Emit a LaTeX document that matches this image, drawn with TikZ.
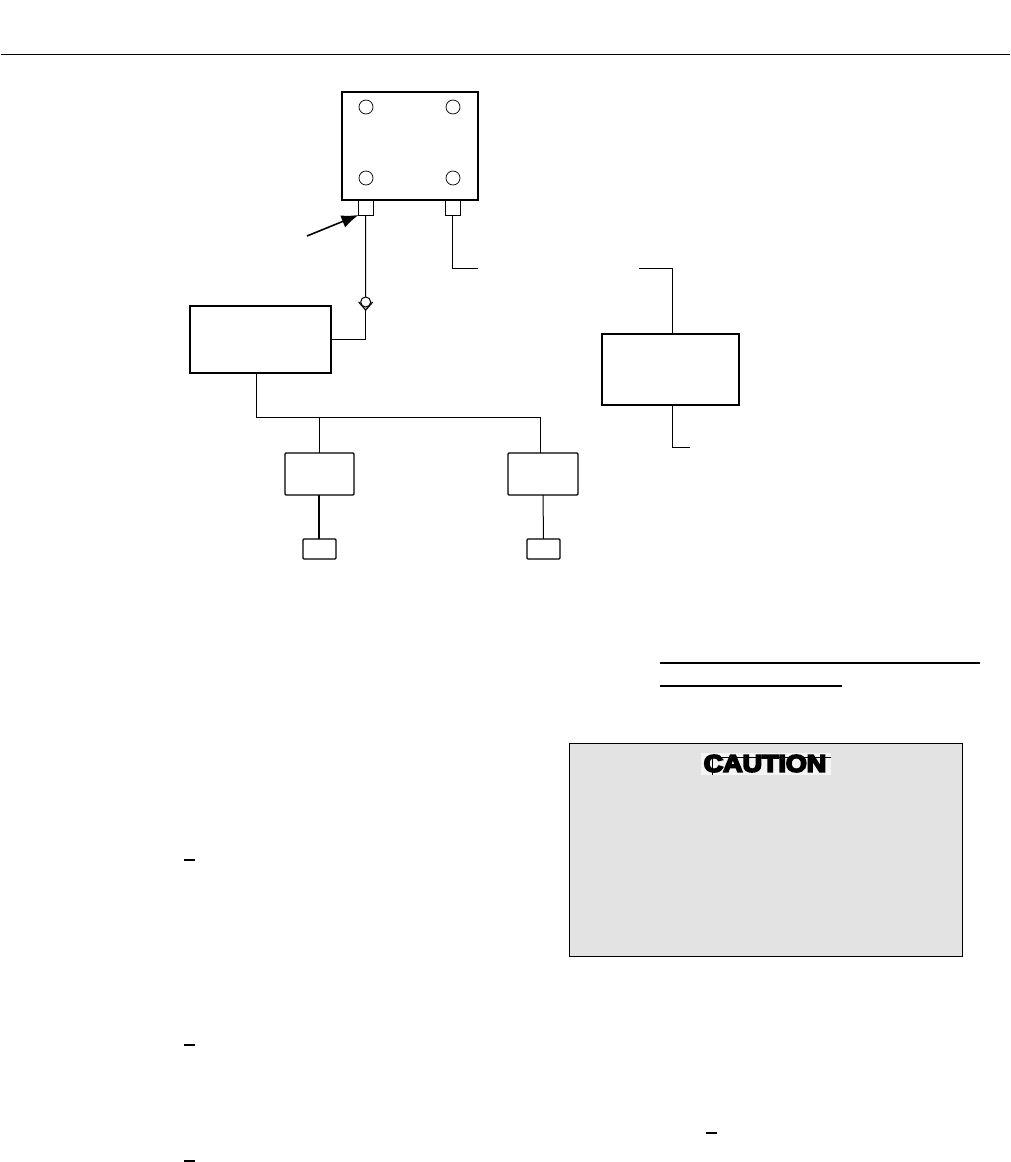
\documentclass[tikz,border=0pt]{standalone}
\usepackage{fontspec}
\usepackage{tikz}
\usetikzlibrary{arrows.meta}
\usetikzlibrary{positioning}
\setmainfont{Liberation Sans}
\newfontfamily\cautionfont[FakeBold=7]{Liberation Sans Bold}
\tikzstyle{unit} = [rectangle, draw=black, line width=1.1pt, inner sep=0pt, outer sep=0pt]
\tikzstyle{module} = [unit, rounded corners=1pt, minimum width=69pt, minimum height=42pt]
\tikzstyle{plug} = [unit, rounded corners=1pt, minimum width=33pt, minimum height=20pt]
\tikzstyle{port} = [unit, line width=1pt, minimum width=15pt, minimum height=15pt, anchor=north]
\tikzstyle{hole} = [circle, draw=black, line width=0.7pt, minimum size=14pt, inner sep=0pt, outer sep=0pt]
\tikzstyle{wire} = [draw=black, line width=1pt]
\tikzstyle{rulebar} = [draw=black, line width=2pt]
\begin{document}
\begin{tikzpicture}[x=1pt, y=-1pt]
\useasboundingbox (0,0) rectangle (1010,1162);

% page rule
\draw [line width=1.3pt] (1,54.3) -- (1010,54.3);

% top box
\node (mainbox) [unit, minimum width=136pt, minimum height=108pt] at (410,146) {};
\node (holea) [hole] at (366,107) {};
\node (holeb) [hole] at (453,107) {};
\node (holec) [hole] at (366,178) {};
\node (holed) [hole] at (453,178) {};
\node (porta) [port] at (365.5,200) {};
\node (portb) [port] at (452.5,200) {};
\node (valve) [circle, draw=black, line width=1pt, minimum size=10pt, inner sep=0pt, outer sep=0pt] at (365.7,302) {};
\coordinate (valvetip) at (365.7,310);
\coordinate (arrowtail) at (307,236);
\coordinate (leadb) at (478,268);

% left side
\node (ctrl) [unit, minimum width=141pt, minimum height=67pt] at (260.5,339.5) {};
\node (moda) [module] at (319.5,474) {};
\node (modb) [module, minimum width=70pt] at (543,474) {};
\node (pluga) [plug] at (319.5,549) {};
\node (plugb) [plug] at (543.5,549) {};
\coordinate (busleft) at (256.5,417);
\coordinate (busmid) at (319,417);
\coordinate (busright) at (540,417);

% right side
\node (relay) [unit, minimum width=137pt, minimum height=71pt] at (670.5,369.5) {};
\coordinate (leadc) at (639,268);
\coordinate (leadd) at (690,447);

\draw [line width=1.6pt, -{Latex[length=17pt,width=13pt]}] (arrowtail) -- ([xshift=0.5pt]porta.south west);
\draw [wire] (porta.south) -- (valve.north);
\draw [line width=1.2pt, line join=miter] ([xshift=-7pt,yshift=8pt]valvetip) -- (valvetip) -- ([xshift=7pt,yshift=8pt]valvetip);
\draw [wire] (valvetip) |- (ctrl.east);
\draw [wire] (portb.south) |- (leadb);
\draw [wire] (ctrl.south -| busleft) -- (busleft) -- (busright) -- ([xshift=-3pt]modb.north);
\draw [wire] (busmid) -- (moda.north -| busmid);
\draw [line width=1.8pt] (moda.south -| busmid) -- (pluga.north -| busmid);
\draw [wire] (modb.south) -- (plugb.north);
\draw [wire] ([xshift=1.5pt]relay.north) |- (leadc);
\draw [wire] ([xshift=1.5pt]relay.south) |- (leadd);

% text marks
\draw [rulebar] (660,663) -- (980,663);
\draw [rulebar] (660,685.5) -- (842,685.5);
\draw [rulebar] (184,860) -- (195,860);
\draw [rulebar] (184,1045) -- (195,1045);
\draw [rulebar] (184,1161) -- (195,1161);
\draw [rulebar] (706,1133) -- (717,1133);

% caution panel
\node (panel) [unit, fill=black!11, line width=1pt, minimum width=393pt, minimum height=213pt] at (765.8,849.5) {};
\node (cautionbg) [fill=white!96!black, minimum width=130pt, minimum height=22pt, inner sep=0pt] at (766,764) {};
\node (caution) [font=\cautionfont\fontsize{24}{24}\selectfont, inner sep=0pt, xscale=1.12] at (765,763.5) {CAUTION};
\draw [line width=0.5pt] (831,757) -- (712,757) -- (712,775);
\end{tikzpicture}
\end{document}
